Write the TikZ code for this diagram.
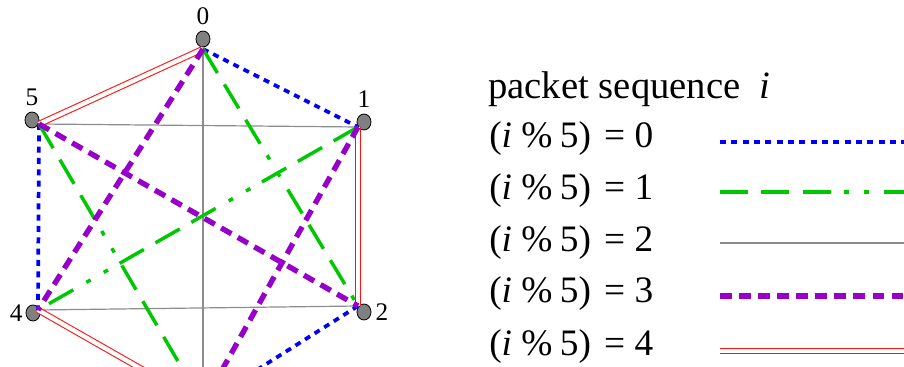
\documentclass[tikz,border=0pt]{standalone}
\usepackage{fontspec}
\setmainfont{Liberation Serif}
\usepackage{xcolor}
\usepackage{tikz}
\usetikzlibrary{positioning, shapes.geometric}

\definecolor{bluPunti}{RGB}{0,0,250}
\definecolor{verdeLinea}{RGB}{0,200,0}
\definecolor{violaLinea}{RGB}{150,0,200}
\definecolor{grigioLinea}{RGB}{140,140,140}
\definecolor{rossoLinea}{RGB}{255,20,20}

\tikzset{
  nodo/.style={ellipse, draw=black, fill=gray, line width=0.6pt,
               minimum width=10.5pt, minimum height=12pt, inner sep=0pt},
  etich/.style={font=\fontsize{19}{22}\selectfont, inner sep=1pt},
  titolo/.style={font=\fontsize{29}{34}\selectfont, inner sep=0pt},
  riga/.style={font=\fontsize{28}{32}\selectfont, inner sep=0pt},
  mod0/.style={draw=bluPunti, line width=2.8pt, dash pattern=on 4.5pt off 4pt},
  mod1/.style={draw=verdeLinea, line width=2.6pt,
               dash pattern=on 21pt off 10pt on 21pt off 10pt on 21pt off 10pt
                            on 3.75pt off 11.25pt on 3.75pt off 11.25pt},
  mod2/.style={draw=grigioLinea, line width=0.9pt},
  mod3/.style={draw=violaLinea, line width=4pt, dash pattern=on 8.8pt off 5.5pt},
  mod4/.style={draw=rossoLinea, line width=0.8pt, double=white, double distance=3.2pt}
}

\begin{document}
\begin{tikzpicture}[x=0.75pt, y=-0.75pt]
    \useasboundingbox (0,0) rectangle (904,367);
    \clip (0,0) rectangle (904,367);

    % Nodi dell'esagono (il nodo 3 resta fuori dal quadro)
    \foreach \n/\x/\y in {0/203/39, 1/364/122, 2/364/312, 4/33/313, 5/32/120}
        \node[nodo] (v\n) at (\x,\y) {};
    \node[etich, above=3pt of v0] (l0) {0};
    \node[etich, above=3pt of v1] (l1) {1};
    \node[etich, right=2pt of v2] (l2) {2};
    \node[etich, left=1pt of v4] (l4) {4};
    \node[etich, above=3pt of v5] (l5) {5};

    % Punti di attacco dei collegamenti
    \foreach \n/\x/\y in {0/203/49, 1/358/127, 2/358/306, 3/203/404, 4/38/310, 5/39/124}
        \coordinate (p\n) at (\x,\y);

    % Collegamenti, uno stile per ogni valore di i % 5
    \foreach \a/\b in {0/3, 5/1, 4/2} \draw[mod2] (p\a) -- (p\b);
    \foreach \a/\b in {0/5, 1/2, 4/3} \draw[mod4] (p\a) -- (p\b);
    \foreach \a/\b in {0/1, 5/4, 2/3} \draw[mod0] (p\a) -- (p\b);
    \foreach \a/\b in {0/2, 1/4, 5/3} \draw[mod1] (p\a) -- (p\b);
    \foreach \a/\b in {0/4, 5/2, 1/3} \draw[mod3] (p\a) -- (p\b);

    % Legenda
    \node[titolo, anchor=base west] (tit) at (488,99) {packet sequence\hspace{0.5em}\textit{i}};
    \foreach \k/\yb/\yl in {0/148/142, 1/200/192, 2/252/243, 3/303/296, 4/355/351} {
        \node[riga, anchor=base west] (r\k) at (489,\yb)
            {(\textit{i}\hspace{0.25em}\%\hspace{0.2em}5)\hspace{0.35em}=\hspace{0.25em}\k};
        \coordinate (a\k) at (720,\yl);
        \coordinate (b\k) at (904,\yl);
        \draw[mod\k] (a\k) -- (b\k);
    }
\end{tikzpicture}
\end{document}
